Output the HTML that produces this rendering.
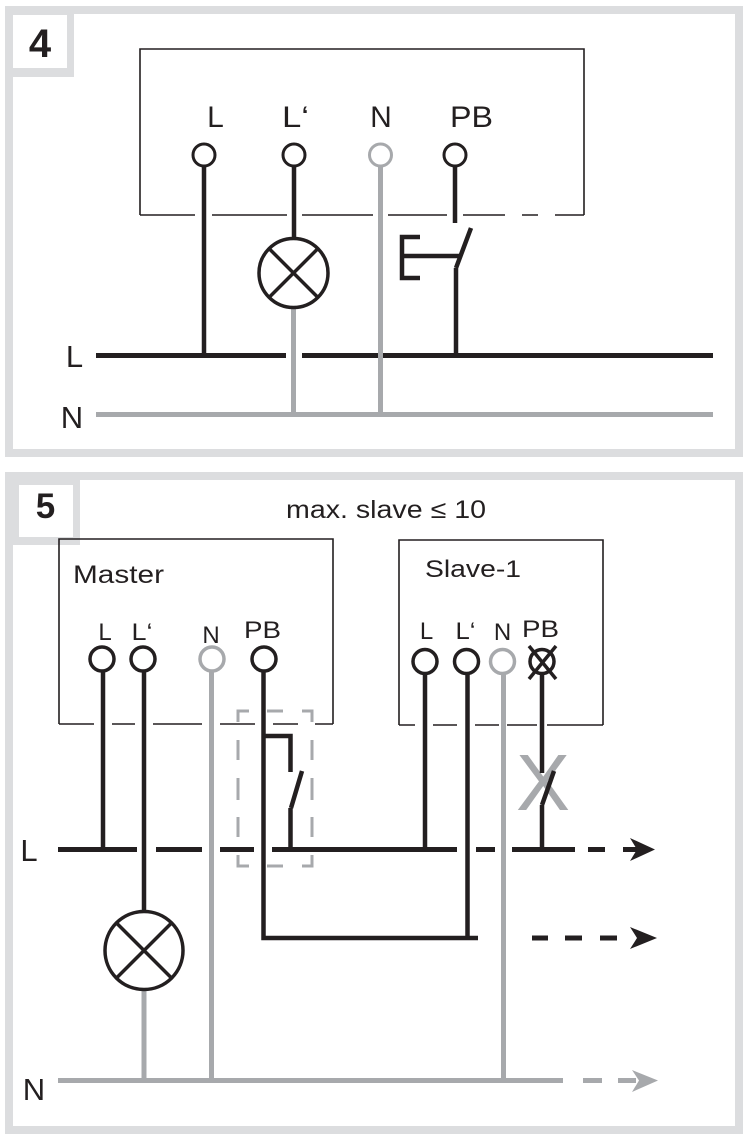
<!DOCTYPE html>
<html><head><meta charset="utf-8"><style>
html,body{margin:0;padding:0;background:#fff;}
svg{display:block;}
text{font-family:"Liberation Sans",Arial,sans-serif;fill:#231f20;}
</style></head><body>
<svg width="750" height="1148" viewBox="0 0 750 1148" xmlns="http://www.w3.org/2000/svg">
<rect x="0" y="0" width="750" height="1148" fill="#fff"/>
<!-- ===== Panel 4 ===== -->
<rect x="9" y="10" width="730" height="443" fill="none" stroke="#dcdddf" stroke-width="8"/>
<rect x="5" y="6" width="69" height="71" fill="#dcdddf"/>
<rect x="13" y="15" width="54" height="53" fill="#fff"/>
<text x="40" y="57" font-size="40" font-weight="bold" text-anchor="middle">4</text>

<!-- device box -->
<g stroke="#231f20" stroke-width="1.6" fill="none">
<path d="M140 215 V49 H584 V215"/>
<path d="M140 215 H195 M212 215 H287 M302 215 H373 M388 215 H447 M463 215 H505 M522 215 H538 M555 215 H584"/>
</g>
<text x="215.5" y="127" font-size="30" text-anchor="middle">L</text>
<text x="282" y="127" font-size="30" textLength="27" lengthAdjust="spacingAndGlyphs">L‘</text>
<text x="381" y="127" font-size="30" text-anchor="middle">N</text>
<text x="450" y="127" font-size="30" textLength="43" lengthAdjust="spacingAndGlyphs">PB</text>

<!-- buses -->
<g stroke-width="5" fill="none">
<path d="M96 355.5 H286 M302 355.5 H713" stroke="#231f20"/>
<path d="M96 414.5 H713" stroke="#a7a9ac"/>
</g>
<!-- wires -->
<g stroke="#231f20" stroke-width="4.5" fill="none">
<path d="M204 166 V355"/>
<path d="M294 166 V238"/>
<path d="M455 166 V223"/>
<path d="M471 228 L456 268 M456 268 V355"/>
<path d="M420 237 H402 V278 H420 M402 256 H460"/>
</g>
<g stroke="#a7a9ac" stroke-width="5" fill="none">
<path d="M293.5 309 V414"/>
<path d="M380.5 166 V414"/>
</g>
<!-- lamp -->
<g stroke="#231f20" stroke-width="3.5" fill="#fff">
<circle cx="293.5" cy="273" r="34.5"/>
<path d="M269 248.5 L318 297.5 M318 248.5 L269 297.5" fill="none"/>
</g>
<!-- terminals -->
<g stroke-width="3" fill="#fff">
<circle cx="204" cy="155" r="11" stroke="#231f20"/>
<circle cx="294" cy="155" r="11" stroke="#231f20"/>
<circle cx="380.5" cy="155" r="11" stroke="#a7a9ac"/>
<circle cx="455" cy="155" r="11" stroke="#231f20"/>
</g>
<text x="74.5" y="367" font-size="31" text-anchor="middle">L</text>
<text x="72" y="428" font-size="31" text-anchor="middle">N</text>

<!-- ===== Panel 5 ===== -->
<rect x="9" y="476" width="730" height="654" fill="none" stroke="#dcdddf" stroke-width="8"/>
<rect x="5" y="472" width="75" height="73" fill="#dcdddf"/>
<rect x="19" y="485" width="54" height="52" fill="#fff"/>
<text x="45.5" y="518" font-size="35" font-weight="bold" text-anchor="middle">5</text>
<text x="286" y="518" font-size="25" textLength="200" lengthAdjust="spacingAndGlyphs">max. slave ≤ 10</text>

<!-- master box -->
<g stroke="#231f20" stroke-width="1.6" fill="none">
<path d="M59 724 V539 H333 V724"/>
<path d="M59 724 H94 M112 724 H135 M153 724 H202 M220 724 H255 M273 724 H298 M315 724 H333"/>
</g>
<text x="73" y="583" font-size="25" textLength="91" lengthAdjust="spacingAndGlyphs">Master</text>
<text x="105" y="640" font-size="24" text-anchor="middle">L</text>
<text x="131.5" y="640" font-size="24" textLength="21" lengthAdjust="spacingAndGlyphs">L‘</text>
<text x="211" y="643" font-size="24" text-anchor="middle">N</text>
<text x="244" y="638" font-size="24" textLength="37" lengthAdjust="spacingAndGlyphs">PB</text>

<!-- slave box -->
<g stroke="#231f20" stroke-width="1.6" fill="none">
<path d="M399 725 V540 H603 V725"/>
<path d="M399 725 H415 M433 725 H457 M475 725 H499 M507 725 H537 M547 725 H603"/>
</g>
<text x="425" y="577" font-size="24" textLength="96" lengthAdjust="spacingAndGlyphs">Slave-1</text>
<text x="426.5" y="639" font-size="24" text-anchor="middle">L</text>
<text x="455.5" y="639" font-size="24" textLength="20" lengthAdjust="spacingAndGlyphs">L‘</text>
<text x="502.5" y="640" font-size="24" text-anchor="middle">N</text>
<text x="522" y="637" font-size="24" textLength="37" lengthAdjust="spacingAndGlyphs">PB</text>

<!-- dashed gray box -->
<g stroke="#a7a9ac" stroke-width="3" fill="none">
<path d="M238 722 V711 H249 M267 711 H283 M302 711 H312 V722"/>
<path d="M238 740 V760 M238 778 V800 M238 817 V837 M238 855 V866 H249 M267 866 H283 M302 866 H312 V855"/>
<path d="M312 740 V760 M312 778 V800 M312 817 V837"/>
</g>

<!-- gray X marker -->
<text x="516" y="810" font-size="80" textLength="54" lengthAdjust="spacingAndGlyphs" style="fill:#a7a9ac">X</text>

<!-- buses -->
<g stroke="#231f20" stroke-width="5" fill="none">
<path d="M58 849.5 H137 M156 849.5 H202 M220 849.5 H254 M272 849.5 H457 M476 849.5 H495 M512 849.5 H575 M588 849.5 H605 M623 849.5 H638"/>
<path d="M532 938 H548 M565 938 H582 M600 938 H617"/>
</g>
<path d="M655 849.5 L630 838 L637 849.5 L630 861 Z" fill="#231f20"/>
<path d="M657 938 L630 927 L637 938 L630 949 Z" fill="#231f20"/>
<g stroke="#a7a9ac" stroke-width="5" fill="none">
<path d="M58 1080.5 H563 M583 1080.5 H602 M618 1080.5 H636"/>
</g>
<path d="M658 1080.5 L632 1070 L639 1080.5 L632 1092 Z" fill="#a7a9ac"/>

<!-- gray wires -->
<g stroke="#a7a9ac" stroke-width="5" fill="none">
<path d="M144 989 V1080"/>
<path d="M211.5 671 V1080"/>
<path d="M503.5 673 V1080"/>
</g>
<!-- black wires -->
<g stroke="#231f20" stroke-width="4.5" fill="none">
<path d="M103 671 V849"/>
<path d="M144 671 V911"/>
<path d="M263.5 671 V938 H478"/>
<path d="M263.5 736 H290.5 V772"/>
<path d="M302 771 L291 808 M290.5 808 V849"/>
<path d="M425 673 V849"/>
<path d="M467.5 673 V938"/>
<path d="M542 673 V773"/>
<path d="M554 771 L542 805 M542 805 V849"/>
</g>
<!-- lamp -->
<g stroke="#231f20" stroke-width="3.5" fill="#fff">
<circle cx="144" cy="950.5" r="39"/>
<path d="M116.5 923 L171.5 978 M171.5 923 L116.5 978" fill="none"/>
</g>
<!-- terminals -->
<g stroke-width="3.5" fill="#fff">
<circle cx="102" cy="659" r="12" stroke="#231f20"/>
<circle cx="143" cy="659" r="12" stroke="#231f20"/>
<circle cx="212" cy="659" r="12" stroke="#a7a9ac"/>
<circle cx="264" cy="659" r="12" stroke="#231f20"/>
<circle cx="425" cy="661.5" r="12" stroke="#231f20"/>
<circle cx="466.5" cy="661.5" r="12" stroke="#231f20"/>
<circle cx="502.5" cy="661.5" r="12" stroke="#a7a9ac"/>
<circle cx="542" cy="661.5" r="12" stroke="#231f20"/>
</g>
<path d="M529 646 L556 679 M556 646 L529 679" stroke="#231f20" stroke-width="3.5" fill="none"/>

<text x="29" y="861" font-size="31" text-anchor="middle">L</text>
<text x="34" y="1100" font-size="31" text-anchor="middle">N</text>
</svg>
</body></html>
